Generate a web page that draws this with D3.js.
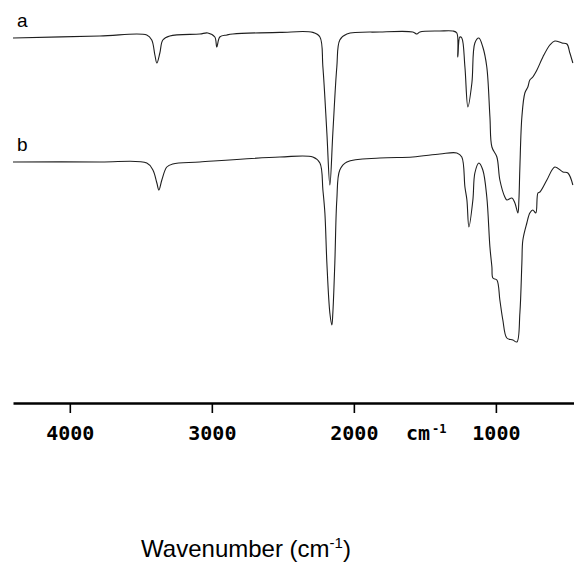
<!DOCTYPE html>
<html>
<head>
<meta charset="utf-8">
<script src="https://cdn.jsdelivr.net/npm/d3@7"></script>
<style>
    body { margin: 0; background: #fff; }
    svg { display: block; }
    .trace { fill: none; stroke: #1e1e1e; stroke-width: 1.1; stroke-linejoin: round; }
    .tick text, .unit { font-family: "DejaVu Sans Mono", monospace; font-weight: bold; font-size: 20px; fill: #000; }
    .lbl { font-family: "Liberation Sans", Arial, sans-serif; font-size: 19px; fill: #000; }
    .title { font-family: "Liberation Sans", Arial, sans-serif; font-size: 24px; fill: #000; }
</style>
</head>
<body>
<svg id="chart" width="574" height="562"></svg>
<script>
// Wavenumbers (cm-1) and transmittance (arbitrary %T)
const waveA = [4400, 3789, 3458, 3423, 3401, 3387, 3366, 3345, 3296, 3085, 3028, 2979, 2965, 2944,
               2894, 2852, 2521, 2289, 2239, 2218, 2190, 2169, 2148, 2120, 2099, 2049, 1817, 1585,
               1556, 1535, 1394, 1303, 1275, 1268, 1254, 1240, 1218, 1197, 1169, 1148, 1120, 1092,
               1064, 1042, 1028, 993, 972, 937, 923, 887, 866, 845, 838, 831, 817, 796, 775, 761,
               740, 711, 669, 620, 585, 535, 500, 479, 458];
const transA = [90.5, 91, 91.25, 90, 86.25, 84.25, 86.75, 90, 91, 91.5, 91.75, 90.75, 88.25, 90.75,
                91.25, 91.5, 91.9, 91.9, 90.75, 83.25, 66.75, 53.75, 66.75, 83.25, 90, 91.5, 92, 92,
                91.5, 92, 92.25, 92.25, 91.75, 85.75, 90.75, 90.5, 83.25, 73.25, 79.25, 89.25, 90.5, 88.25,
                83.25, 70.75, 63.25, 60.75, 55, 50.75, 50, 50.5, 49.25, 46.75, 50, 58.25, 70.75, 76.75, 78.25, 80,
                80.75, 82.5, 85.75, 88.75, 89.75, 89.25, 89, 86.75, 84.25];

const waveB = [4400, 3789, 3458, 3415, 3387, 3373, 3352, 3317, 3275, 3085, 2521, 2289, 2239, 2218,
               2204, 2190, 2169, 2155, 2148, 2134, 2120, 2099, 2049, 1817, 1585, 1394, 1275, 1240,
               1218, 1204, 1190, 1162, 1148, 1120, 1092, 1064, 1042, 1028, 1021, 993, 972, 951,
               923, 880, 852, 831, 817, 810, 782, 761, 740, 719, 704, 690, 641, 585, 528, 493, 458];
const transB = [59.5, 59.5, 59.25, 57.5, 54.25, 52.5, 55, 58.25, 59, 59.5, 60.75, 60.75, 59.25, 52.5,
                46.75, 34.25, 21.75, 18.75, 21.75, 34.25, 50, 57.5, 59.5, 60.5, 60.75, 61.5, 61.75, 60.75,
                53.25, 50, 43.25, 50, 56.75, 59.25, 57.5, 50.75, 38.25, 33.25, 30.5, 30, 25, 20,
                15.5, 15, 14.5, 21.75, 34.25, 40, 44.25, 46.75, 47.5, 46.75, 51.75, 52, 55, 58.25, 57, 56.75, 53.75];

const traceLabels = ['a', 'b'];
const tickValues = [4000, 3000, 2000, 1000];
const axisTitle = 'Wavenumber (cm';

let svg = d3.select('#chart');
let axisY = 403;

// Scales: wavenumber runs right to left
let x = d3.scaleLinear().domain([4400, 450]).range([13, 574]);
let y = d3.scaleLinear().domain([0, 100]).range([400, 0]);

let lineGen = d3.line()
    .curve(d3.curveCatmullRom.alpha(0.5))
    .x(d => x(d[0]))
    .y(d => y(d[1]));

// Draw both traces
let series = [d3.zip(waveA, transA), d3.zip(waveB, transB)];
svg.append('g').selectAll('path')
    .data(series).enter().append('path')
    .attr('class', 'trace')
    .attr('d', lineGen);

// Trace labels, placed just above each trace start
svg.selectAll('text.lbl')
    .data(traceLabels).enter().append('text')
    .attr('class', 'lbl')
    .attr('x', 17)
    .attr('y', (d, i) => y(series[i][0][1]) - 11)
    .text(d => d);

// X axis
let xAxis = d3.axisBottom(x)
    .tickValues(tickValues)
    .tickSize(10)
    .tickSizeOuter(0)
    .tickFormat(d3.format('d'));
let g_xAxis = svg.append('g')
    .attr('transform', `translate(0, ${axisY})`)
    .call(xAxis);
g_xAxis.select('.domain')
    .attr('stroke', '#000').attr('stroke-width', 2.6);
g_xAxis.selectAll('.tick line')
    .attr('stroke', '#000').attr('stroke-width', 1.6);
g_xAxis.selectAll('.tick text')
    .attr('y', 37).attr('dy', 0);

// Unit label next to the ticks
let unit = svg.append('text')
    .attr('class', 'unit')
    .attr('x', 406).attr('y', axisY + 37);
unit.append('tspan').text('cm');
unit.append('tspan')
    .attr('font-size', 12).attr('dy', -7).attr('dx', 2)
    .text('-1');

// Axis title
let title = svg.append('text')
    .attr('class', 'title')
    .attr('x', 246).attr('y', 557)
    .attr('text-anchor', 'middle');
title.append('tspan').text(axisTitle);
title.append('tspan')
    .attr('font-size', 15).attr('dy', -9)
    .text('-1');
title.append('tspan')
    .attr('dy', 9)
    .text(')');
</script>
</body>
</html>
